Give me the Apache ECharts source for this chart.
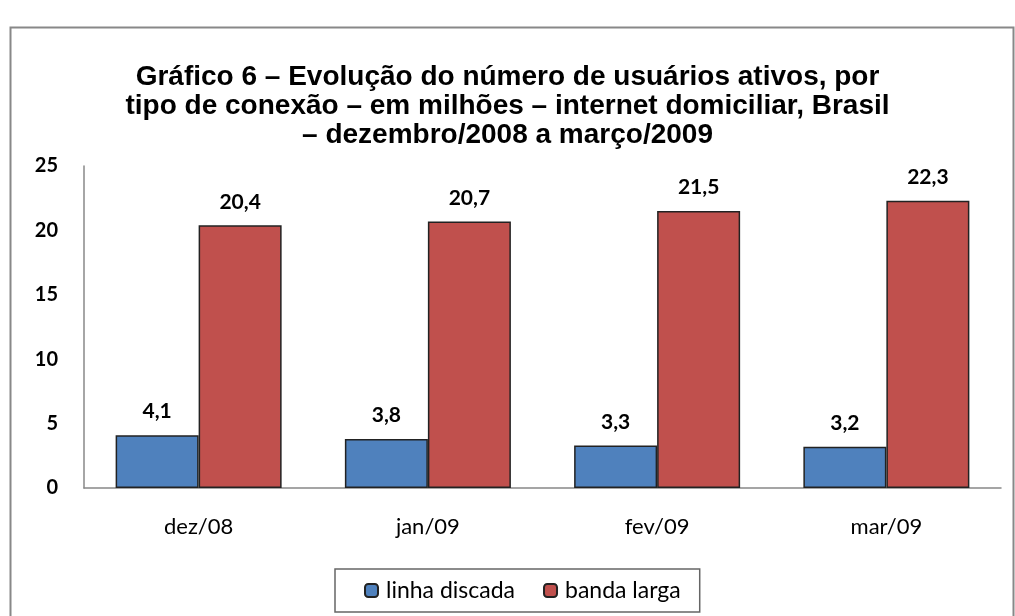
<!DOCTYPE html>
<html>
<head>
<meta charset="utf-8">
<script src="https://cdn.jsdelivr.net/npm/echarts@6/dist/echarts.min.js"></script>
<style>
  html, body { margin: 0; padding: 0; background: #fff; }
  #chart { width: 1015px; height: 616px; }
</style>
</head>
<body>
<div id="chart"></div>
<script>
// dados do gráfico
var meses = ['dez/08', 'jan/09', 'fev/09', 'mar/09'];
var linhaDiscada = [4.1, 3.8, 3.3, 3.2];
var bandaLarga = [20.4, 20.7, 21.5, 22.3];
var nomesSeries = ['linha discada', 'banda larga'];

var chart = echarts.init(document.getElementById('chart'));

function virgula(p) {
    return String(p.value.toFixed(1)).replace('.', ',');
}

var option = {
    animation: false,
    title: {
        text: 'Gráfico 6 – Evolução do número de usuários ativos, por\ntipo de conexão – em milhões – internet domiciliar, Brasil\n– dezembro/2008 a março/2009',
        left: 'center',
        top: 58,
        textStyle: {
            fontFamily: 'Liberation Sans',
            fontWeight: 'bold',
            fontSize: 28,
            lineHeight: 29,
            color: '#000'
        }
    },
    graphic: [{
        type: 'rect',
        shape: { x: 10.5, y: 27.5, width: 1003, height: 600 },
        style: { fill: 'none', stroke: '#888', lineWidth: 2 },
        silent: true
    }],
    legend: {
        data: nomesSeries,
        bottom: 4,
        left: 335,
        itemWidth: 13,
        itemHeight: 13,
        itemGap: 28,
        padding: [10, 19, 10, 29],
        borderColor: '#666',
        borderWidth: 1.5,
        textStyle: {
            fontFamily: 'Lato',
            fontSize: 23,
            padding: [0, 0, 0, 3],
            color: '#000'
        }
    },
    grid: {
        left: 84,
        right: 14,
        top: 166,
        bottom: 128
    },
    xAxis: {
        type: 'category',
        data: meses,
        axisLine: { lineStyle: { color: '#888', width: 1.5 } },
        axisTick: { show: false },
        axisLabel: {
            margin: 28,
            fontFamily: 'Lato',
            fontSize: 22,
            color: '#000'
        }
    },
    yAxis: {
        type: 'value',
        min: 0,
        max: 25,
        interval: 5,
        splitLine: { show: false },
        axisLine: { show: true, lineStyle: { color: '#888', width: 1.5 } },
        axisTick: { show: false },
        axisLabel: {
            margin: 26,
            fontFamily: 'Lato',
            fontWeight: 'bold',
            fontSize: 20,
            color: '#000'
        }
    },
    series: [{
        name: nomesSeries[0],
        type: 'bar',
        data: linhaDiscada,
        barWidth: 83,
        barGap: '0%',
        itemStyle: { color: '#4F81BD', borderColor: '#222', borderWidth: 1.5 },
        label: {
            show: true,
            position: 'top',
            distance: 13,
            formatter: virgula,
            fontFamily: 'Lato',
            fontWeight: 'bold',
            fontSize: 21,
            color: '#000'
        }
    }, {
        name: nomesSeries[1],
        type: 'bar',
        data: bandaLarga,
        barWidth: 83,
        barGap: '0%',
        itemStyle: { color: '#C0504D', borderColor: '#222', borderWidth: 1.5 },
        label: {
            show: true,
            position: 'top',
            distance: 13,
            formatter: virgula,
            fontFamily: 'Lato',
            fontWeight: 'bold',
            fontSize: 21,
            color: '#000'
        }
    }]
};
chart.setOption(option);
</script>
</body>
</html>
